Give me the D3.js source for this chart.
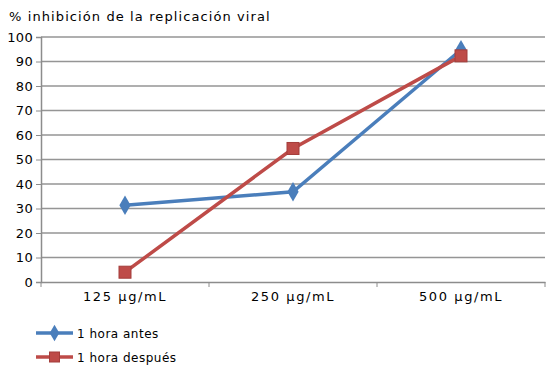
<!DOCTYPE html>
<html><head><meta charset="utf-8">
<script src="https://cdn.jsdelivr.net/npm/d3@7"></script>
<style>body{margin:0;background:#fff}svg{display:block}text{font-family:"DejaVu Sans",Verdana,sans-serif;letter-spacing:1.1px}</style>
</head><body>
<script>
const categories = ["125 µg/mL","250 µg/mL","500 µg/mL"];
const antes = [31.3, 36.8, 94.8];
const despues = [4.0, 54.5, 92.3];
const seriesNames = ["1 hora antes","1 hora después"];
const yTicks = [0,10,20,30,40,50,60,70,80,90,100];
const colors = ["#4a7ebb","#be4b48"];

const W=548,H=369;
const svg=d3.select("body").append("svg").attr("width",W).attr("height",H);
const L=41,R=545,T=37,B=282;
const FS=13;
const x=d3.scaleBand().domain(categories).range([L,R]);
const y=d3.scaleLinear().domain([0,100]).range([B,T]);

svg.append("g").selectAll("line").data(yTicks.slice(1)).join("line")
 .attr("x1",L).attr("x2",R).attr("y1",d=>y(d)).attr("y2",d=>y(d))
 .attr("stroke","#959595").attr("stroke-width",1.5);

const ya=svg.append("g").attr("transform",`translate(${L},0)`)
 .call(d3.axisLeft(y).tickValues(yTicks).tickSize(5).tickPadding(3));
ya.select(".domain").attr("stroke","#8c8c8c").attr("stroke-width",1.5);
ya.selectAll(".tick line").attr("stroke","#8c8c8c");
ya.selectAll("text").attr("font-size",FS).attr("fill","#000").style("letter-spacing","0.3px");

const xa=svg.append("g").attr("transform",`translate(0,${B})`)
 .call(d3.axisBottom(x).tickSize(0).tickPadding(10));
xa.select(".domain").attr("stroke","#8c8c8c").attr("stroke-width",1.5);
xa.selectAll("text").attr("font-size",FS).attr("fill","#000").style("letter-spacing","1.6px");
const bounds=[L].concat(categories.map(c=>x(c)+x.bandwidth()));
svg.append("g").selectAll("line").data(bounds).join("line")
 .attr("x1",d=>d).attr("x2",d=>d).attr("y1",B).attr("y2",B+5)
 .attr("stroke","#8c8c8c");

svg.append("text").attr("x",9).attr("y",21).attr("font-size",FS).text("% inhibición de la replicación viral");

const cx=c=>x(c)+x.bandwidth()/2;
const line=d3.line().x((d,i)=>cx(categories[i])).y(d=>y(d));
const diamond=d3.symbol().type(d3.symbolDiamond).size(110);
const diamondS=d3.symbol().type(d3.symbolDiamond).size(80);

function drawSeries(vals,col,shape){
 svg.append("path").datum(vals).attr("d",line).attr("fill","none").attr("stroke",col).attr("stroke-width",3.5);
 const g=svg.append("g");
 vals.forEach((v,i)=>{
  if(shape==="d"){
   g.append("path").attr("d",diamond).attr("transform",`translate(${cx(categories[i])},${y(v)})`).attr("fill",col);
  } else {
   g.append("rect").attr("x",cx(categories[i])-6).attr("y",y(v)-6).attr("width",12).attr("height",12)
    .attr("fill",col).attr("stroke","#a33d3a").attr("stroke-width",1);
  }
 });
}
drawSeries(antes,colors[0],"d");
drawSeries(despues,colors[1],"s");

const leg=[{n:seriesNames[0],c:colors[0],s:"d",y:333},{n:seriesNames[1],c:colors[1],s:"s",y:357}];
leg.forEach(l=>{
 svg.append("line").attr("x1",36).attr("x2",73).attr("y1",l.y).attr("y2",l.y).attr("stroke",l.c).attr("stroke-width",3.5);
 if(l.s==="d") svg.append("path").attr("d",diamondS).attr("transform",`translate(54.5,${l.y})`).attr("fill",l.c);
 else svg.append("rect").attr("x",49.5).attr("y",l.y-5).attr("width",10).attr("height",10).attr("fill",l.c).attr("stroke","#a33d3a");
 svg.append("text").attr("x",77).attr("y",l.y+4.5).attr("font-size",12).style("letter-spacing","0.5px").text(l.n);
});
</script>
</body></html>
